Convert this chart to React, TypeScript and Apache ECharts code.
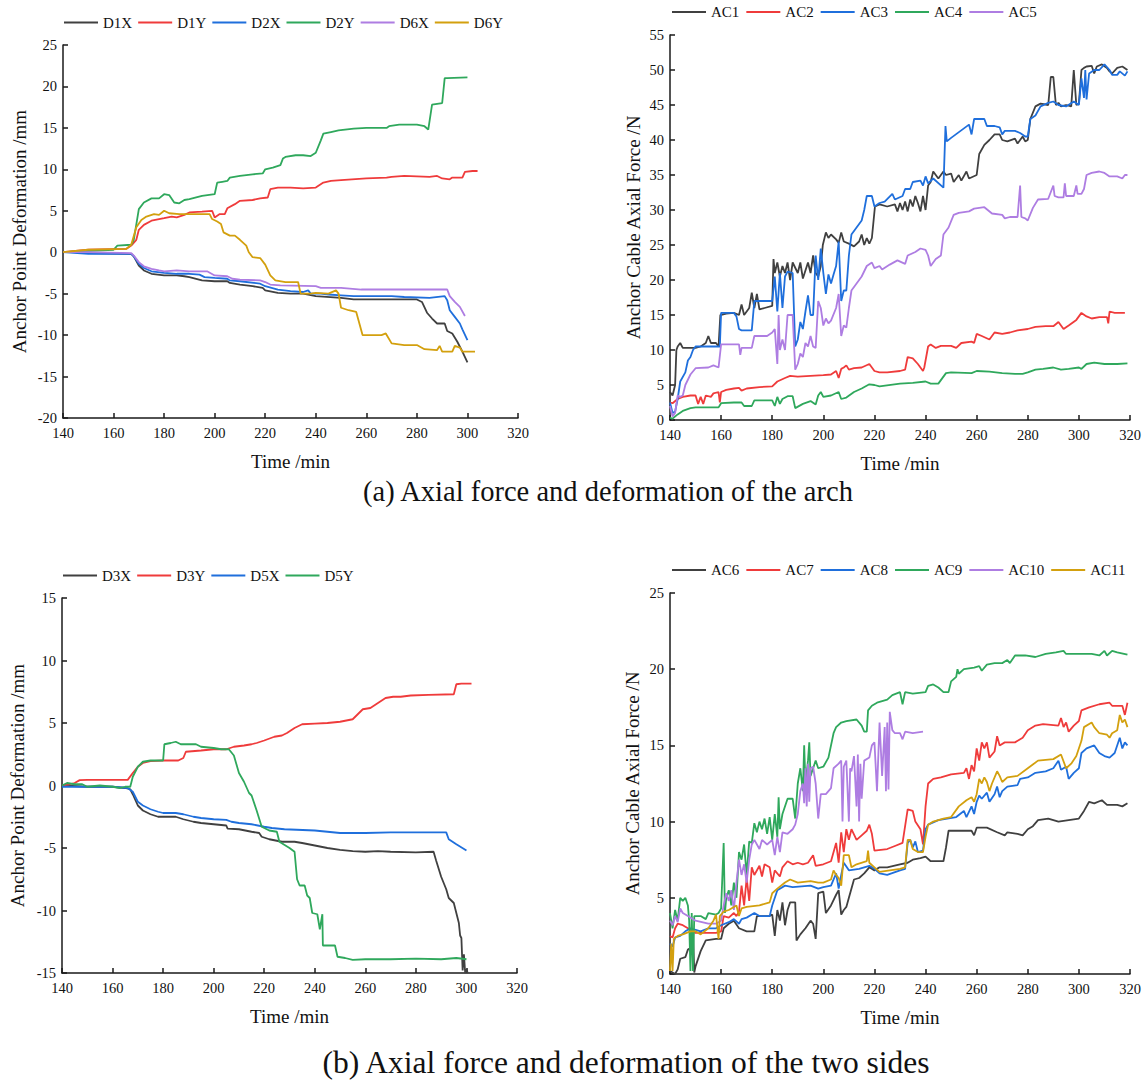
import React, { useEffect, useRef } from "react";
import * as echarts from "echarts";

type P = [number, number][];

// ---------- (a) left: anchor point deformation ----------
const D1X: P = [[140,0],[145,0],[150,-0.1],[167,-0.2],[168,-0.5],[170,-1.6],[172,-2.2],[175,-2.6],[180,-2.8],[185,-2.8],[188,-2.9],[190,-3.0],[195,-3.4],[200,-3.5],[205,-3.5],[206,-3.7],[210,-3.9],[215,-4.1],[219,-4.3],[220,-4.6],[225,-4.9],[230,-5.0],[235,-5.0],[240,-5.3],[250,-5.5],[255,-5.7],[260,-5.7],[270,-5.7],[280,-5.7],[282,-6.0],[284,-7.3],[286,-8.0],[288,-8.6],[291,-8.6],[292,-9.5],[294,-9.8],[296,-10.8],[298,-12.0],[300,-13.3]];
const D1Y: P = [[140,0],[150,0.3],[165,0.4],[167,0.8],[169,1.5],[170,2.7],[172,3.3],[175,3.8],[180,4.1],[183,4.3],[185,4.2],[188,4.5],[190,4.8],[195,4.9],[199,5.0],[200,4.2],[202,4.6],[204,4.6],[205,5.3],[208,5.8],[210,6.2],[215,6.3],[218,6.5],[221,6.6],[222,7.6],[225,7.8],[230,7.8],[235,7.7],[240,7.8],[243,8.4],[246,8.6],[250,8.7],[260,8.9],[268,9.0],[270,9.1],[275,9.2],[285,9.1],[288,9.2],[290,8.9],[293,8.8],[294,9.0],[298,9.0],[299,9.7],[302,9.8],[304,9.8]];
const D2X: P = [[140,0],[150,-0.2],[167,-0.2],[168,-0.5],[170,-1.4],[172,-1.9],[175,-2.3],[180,-2.5],[185,-2.6],[190,-2.6],[194,-2.7],[196,-3.0],[200,-3.1],[205,-3.2],[206,-3.4],[210,-3.5],[218,-3.8],[220,-4.1],[225,-4.5],[230,-4.7],[235,-4.8],[237,-4.6],[238,-5.0],[242,-5.0],[245,-5.1],[250,-5.2],[255,-5.3],[270,-5.3],[275,-5.4],[285,-5.5],[291,-5.3],[292,-5.8],[293,-7.0],[295,-7.8],[297,-8.6],[298,-9.3],[300,-10.6]];
const D2Y: P = [[140,0],[160,0.3],[161.5,0.8],[167,0.9],[168,1.5],[170,5.2],[172,6.0],[175,6.5],[178,6.5],[180,7.0],[182,6.9],[184,6.0],[186,5.9],[188,6.3],[190,6.4],[195,6.8],[200,7.0],[201,8.4],[203,8.5],[205,8.6],[206,9.0],[210,9.2],[215,9.4],[219,9.5],[220,10.0],[223,10.2],[226,10.5],[227,11.3],[228,11.5],[232,11.7],[235,11.7],[238,11.6],[240,12.0],[242,13.5],[243,14.3],[246,14.5],[249,14.7],[255,14.9],[260,15.0],[268,15.0],[269,15.2],[273,15.4],[280,15.4],[283,15.2],[284.5,14.8],[286,17.8],[290,18.0],[291,21.0],[292,21.0],[300,21.1]];
const D6X: P = [[140,0],[150,0],[167,-0.1],[168,-0.4],[170,-1.2],[172,-1.7],[175,-2.0],[178,-2.2],[180,-2.3],[185,-2.2],[190,-2.3],[197,-2.3],[200,-2.8],[205,-2.9],[207,-3.2],[210,-3.3],[218,-3.4],[220,-3.6],[222,-3.9],[226,-4.0],[240,-4.1],[242,-4.3],[250,-4.3],[258,-4.5],[270,-4.5],[292,-4.5],[293,-5.3],[295,-6.0],[297,-6.6],[299,-7.7]];
const D6Y: P = [[140,0],[150,0.3],[165,0.4],[167,0.9],[169,3.0],[171,3.9],[173,4.3],[176,4.6],[178,4.5],[180,5.0],[182,4.7],[186,4.6],[190,4.6],[198,4.6],[199,4.0],[201,3.7],[202.5,3.4],[203.5,2.4],[206,2.0],[208,2.0],[210,1.5],[212.5,0.8],[213.5,0],[215,-0.6],[218,-0.7],[220,-1.5],[222,-2.8],[224,-3.4],[228,-3.6],[233,-3.6],[234,-5.0],[238,-5.0],[240,-4.9],[245,-5.0],[248,-4.6],[249,-5.0],[250,-6.7],[253,-7.0],[256,-7.2],[258.5,-10.0],[262,-10.0],[266,-10.0],[267.7,-9.8],[270,-11.0],[275,-11.2],[280,-11.2],[283,-11.7],[288,-11.8],[289,-11.3],[290,-12.0],[294,-12.0],[295,-11.3],[297,-11.5],[298,-12.0],[303,-12.0]];

// ---------- (a) right: anchor cable axial force ----------
const AC1: P = [[140,4],[141,3.5],[142,5],[142.5,10],[143,10.5],[144,11],[145,10.3],[150,10.3],[152,10.5],[154,11],[155,12],[156,11],[158,11],[159,10.5],[159.7,15],[162,15.2],[165,15.3],[167,15],[168,16.5],[169,15],[171,16],[172,18.2],[173,16],[174,18],[175,15.8],[177,16],[180,16.3],[180.5,23],[181,21],[182,22.5],[183,20.5],[184,22],[185,21],[186,22.5],[187,20],[188,22.5],[190,21],[191,22.5],[192,20.2],[194,22.5],[195,21],[196,23.5],[197,21],[198,20.5],[199,22],[199.8,25],[201,26.8],[202,26],[203,26.5],[205,25.8],[206,25.3],[207,26.8],[208,25.5],[210,25.2],[212,24.8],[214,25.5],[215,26.5],[216,25],[217,26],[218,25.2],[219,26],[220.2,30.5],[222,30.8],[225,30.5],[228,30.8],[229,29.8],[230,31],[231,30],[232,31.2],[233,29.8],[234,31.5],[235,30.5],[236,32],[237,31],[238,29.8],[239,32],[240,30],[241,33.5],[242,34],[243,35.5],[245,34.5],[247,35.5],[248,35],[250,35.2],[251,34],[253,35],[254,34.2],[256,35.5],[257,34.5],[260,35],[261,38],[263,39.3],[265,40],[267,40.8],[269,40.8],[270,40],[272,39.8],[275,40.2],[276,39.5],[278,40.5],[279,39.8],[280,40],[281,43],[283,44.8],[285,45.2],[288,45],[289,49],[290,49],[291,45],[292,45.3],[293,44.8],[295,45],[297,44.8],[298,50],[299,45],[300,45.2],[301,50],[302,50.3],[303,50.5],[305,50.6],[306,49.5],[307,50.5],[309,50.8],[311,50.3],[312,49.8],[313,49.5],[315,50.3],[317,50.5],[319,50]];
const AC2: P = [[140,2.5],[141,2.4],[143,3],[145,3.3],[148,3.5],[150,3.5],[151,2.3],[152,3.3],[153,2.3],[154,3.5],[156,3.3],[157,3.8],[159,4],[159.5,2.5],[160,4],[162,4.3],[165,4.5],[167,4.6],[168,4.2],[170,4.5],[175,4.7],[180,4.8],[182,5.5],[185,6],[187,6.3],[190,6.2],[195,6.3],[200,6.4],[203,6.5],[205,7],[206,6],[207,7.3],[208,7.5],[209,7.8],[210,7.2],[212,7.4],[215,7.5],[218,8],[220,7],[222,6.8],[225,6.8],[230,7],[232,7.2],[233,9],[235,8.8],[237,8],[239,7],[239.5,7.5],[241,10.5],[242,10.8],[244,10.3],[246,10.6],[250,10.6],[252,10.3],[254,11],[258,11.2],[259,11],[260,12.3],[262,12],[265,11.5],[267,12.5],[270,12.3],[273,12.5],[276,12.8],[280,13],[283,13.3],[287,13.4],[290,13.4],[292,14],[294,13],[296,13.5],[299,14.3],[301,15.3],[303,14.8],[305,14.5],[308,14.7],[311,14.7],[311.5,13.8],[312,15.5],[314,15.3],[318,15.3]];
const AC3: P = [[140,2.5],[141,1],[142,1.2],[143,3],[144,5.5],[146,6.8],[147,8.5],[148,9],[149,10],[150,10.5],[155,10.5],[159.5,10.5],[160,15.3],[165,15.3],[166,14.8],[167,13],[168,12.8],[172,12.8],[173,17],[178,17],[180,17],[181,20.5],[182,15.5],[183,21],[184,16],[185,20.5],[186,21.2],[188,21],[189,10.5],[190,11.5],[191,14],[192,13],[193,15.5],[194,17.8],[195,15],[196,15],[197,23.5],[198,20],[199,24.5],[200,21],[201,18],[202,20.8],[203,19.5],[204,20.8],[205,22],[206,25.5],[207,17],[208,18.5],[209,18.5],[210,23.5],[211,26.5],[213,27.5],[215,28.5],[216,30],[217,32],[219,32],[220,30.5],[222,31],[224,31.2],[227,32.3],[228,31.5],[231,32],[232,33],[234,33],[235,34],[238,34.2],[239,33.5],[240,34.8],[241,33.8],[243,34.5],[247,33.2],[247.8,42],[248.3,39.8],[250,40.3],[257,42.2],[258,40.8],[259,43],[263,43],[264,42],[267,42],[269,41.8],[270,40.8],[271,41.3],[275,41.3],[277,41],[279,40.5],[280,40.5],[281,43],[283,43.5],[285,44.8],[288,45.3],[290,45.5],[292,45],[295,44.8],[298,45.5],[300,45],[301,48.8],[302,46],[302.5,50],[303,45.8],[304,49.5],[306,50],[308,50],[310,50.8],[312,50],[313,49.3],[315,49.3],[316,49.8],[318,49.2],[319,49.8]];
const AC4: P = [[140,0.3],[141,0.2],[143,0.8],[145,1.3],[148,1.7],[150,1.8],[155,1.8],[159,1.8],[160,2.4],[165,2.5],[168,2.5],[169,2.0],[172,2.0],[173,2.8],[180,2.8],[181,2],[182,3.3],[183,2.3],[184,3.0],[186,3.4],[188,3.4],[189,1.7],[192,2.3],[195,2.7],[197,2.2],[198,3.5],[199,4],[200,3.3],[203,3.5],[206,4],[207,3],[209,3.2],[212,4],[215,4.5],[218,5.1],[220,5],[222,4.8],[230,5.2],[235,5.3],[240,5.5],[242,5.2],[245,5.2],[248,6.7],[250,6.8],[258,6.7],[260,7],[265,6.9],[270,6.7],[275,6.6],[278,6.6],[280,6.8],[283,7.2],[286,7.3],[290,7.5],[293,7.2],[296,7.3],[300,7.5],[301,7.3],[303,8],[306,8.2],[310,8],[315,8.0],[319,8.1]];
const AC5: P = [[140,2],[141,0.5],[142,1],[143,3.5],[144,3.3],[145,3.5],[146,5],[148,6.5],[150,7.4],[155,7.5],[157,7.8],[159,7.5],[160,10.8],[165,10.8],[167,10.8],[167.5,9.3],[168,10.3],[172,10.3],[173,12],[178,12],[180,12.5],[181,13],[182,8],[182.5,15],[183,10],[184,11.5],[185,10],[186,15],[188,15],[189,7.2],[190,8],[191,9.5],[192,9],[193,11],[194,10.5],[195,12],[196,10.5],[197,10.3],[198,17],[199,16],[200,13.5],[201,14.5],[202,13.8],[203,14.2],[205,16],[206,18],[207,12],[208,13.5],[209,13.2],[210,16],[211,18.5],[213,19.5],[215,20.5],[217,22],[219,22.5],[220,21.7],[222,22],[223,21.5],[226,22.2],[229,22.8],[232,22.3],[233,23.5],[236,24],[238,24.5],[240,24.3],[241,23.5],[242,22],[244,23],[246,23.5],[247,26.5],[249,27.5],[251,29.3],[253,29.6],[257,29.8],[259,30.2],[263,30.4],[266,29.5],[270,29.3],[271,28.8],[273,29],[276,29],[277,33.5],[277.5,29],[279,28.8],[280,28.5],[282,30.3],[284,31.5],[288,31.6],[290,33.5],[290.5,32],[292,31.8],[294,31.8],[294.5,33.8],[295,32],[298,32],[299,33.5],[299.5,32.3],[301,32.3],[302,33],[303,35],[305,35.3],[308,35.5],[310,35.3],[312,34.8],[315,34.8],[317,34.5],[318,35],[319,35]];

// ---------- (b) left: anchor point deformation ----------
const D3X: P = [[140,0],[150,-0.1],[160,-0.1],[165,-0.2],[167,-0.3],[168,-0.7],[170,-1.6],[172,-2.0],[175,-2.3],[178,-2.5],[185,-2.5],[188,-2.7],[192,-2.9],[195,-3.0],[200,-3.1],[205,-3.2],[205.5,-3.45],[210,-3.5],[215,-3.7],[218,-3.8],[219,-4.1],[222,-4.3],[227,-4.5],[232,-4.5],[235,-4.6],[240,-4.8],[245,-5.0],[250,-5.15],[255,-5.25],[260,-5.3],[265,-5.25],[270,-5.3],[280,-5.35],[287,-5.3],[288,-6.0],[290,-7.3],[292,-8.3],[293,-9.0],[295,-9.4],[296,-10.2],[297,-11.0],[297.5,-12.0],[298,-12.2],[298.5,-14.8],[299,-13.5],[299.5,-15.0],[300,-14.7],[300.5,-15.0]];
const D3Y: P = [[140,0],[143,0.1],[145,0.2],[147,0.43],[150,0.45],[166,0.45],[168,1.0],[170,1.5],[172,1.8],[175,1.95],[180,2.0],[186,2.0],[188,2.2],[189,2.7],[195,2.8],[200,2.9],[205,2.9],[208,3.1],[212,3.2],[215,3.3],[217,3.4],[220,3.6],[224,3.9],[227,4.0],[229,4.2],[232,4.6],[235,4.9],[240,4.95],[245,5.0],[250,5.1],[255,5.3],[257,5.7],[259,6.1],[262,6.2],[265,6.6],[268,7.0],[271,7.1],[274,7.1],[278,7.2],[285,7.25],[295,7.3],[296,8.1],[298,8.15],[302,8.15]];
const D5X: P = [[140,-0.1],[150,-0.1],[160,-0.1],[166,-0.2],[168,-0.5],[170,-1.3],[172,-1.6],[175,-1.9],[178,-2.1],[180,-2.2],[185,-2.2],[188,-2.3],[192,-2.5],[195,-2.6],[200,-2.7],[205,-2.75],[207,-2.9],[210,-3.0],[215,-3.1],[220,-3.3],[223,-3.4],[228,-3.5],[240,-3.6],[245,-3.7],[250,-3.8],[260,-3.8],[270,-3.75],[292,-3.75],[293,-4.3],[296,-4.7],[300,-5.2]];
const D5Y: P = [[140,0],[142,0.2],[145,0.1],[148,0.1],[150,-0.1],[155,0],[160,-0.1],[163,-0.2],[165,-0.1],[167,-0.1],[168,0.7],[170,1.5],[172,1.9],[175,2.0],[180,2.0],[180.5,3.3],[183,3.4],[185,3.5],[187,3.3],[190,3.3],[193,3.3],[195,3.1],[200,3.0],[203,2.9],[206,2.9],[208,2.4],[210,1.0],[212,0.3],[214,-0.6],[215,-0.8],[217,-2.0],[219,-3.3],[222,-3.6],[225,-3.7],[226,-4.5],[230,-5.0],[232,-5.3],[233,-7.5],[234,-8.0],[236,-8.0],[237,-8.8],[238,-9.0],[239,-10.2],[241,-10.3],[242,-11.5],[243,-10.3],[243.2,-12.8],[248,-12.8],[249,-13.7],[252,-13.8],[255,-13.95],[260,-13.9],[270,-13.9],[280,-13.85],[290,-13.9],[296,-13.8],[300,-13.9]];

// ---------- (b) right: anchor cable axial force ----------
const AC6: P = [[140,0.2],[142,0],[143,0.3],[144,1],[146,1.1],[147,1.6],[148,1.7],[149,2.8],[149.5,0.1],[150,0.5],[152,1.5],[154,2.2],[158,2.3],[160,2.3],[161,3.0],[163,3.3],[165,3.5],[167,3.0],[170,2.8],[173,2.8],[174,3.8],[179,3.8],[180,3.9],[181,2.5],[182,4.2],[183,3.5],[184,4.7],[185,3.2],[186,4.2],[187,4.7],[189,4.7],[189.5,2.2],[191,2.6],[193,3.0],[195,3.5],[196,3.3],[197,2.3],[198,5.3],[200,5.4],[201,4.0],[203,4.5],[205,5.2],[206,5.5],[207,3.9],[208,4.2],[209,4.4],[210,5.0],[212,6.2],[214,6.3],[216,6.6],[218,7.0],[220,6.8],[222,7.0],[225,7.0],[230,7.2],[233,7.3],[235,7.5],[238,7.6],[240,7.7],[242,7.4],[247,7.4],[248,8.3],[249,9.4],[252,9.4],[258,9.4],[259,9.1],[260,9.6],[264,9.6],[268,9.3],[271,9.1],[272,9.3],[276,9.2],[278,9.1],[280,9.5],[282,9.7],[284,10.1],[288,10.2],[292,10.0],[296,10.1],[300,10.2],[302,10.7],[304,11.3],[306,11.2],[309,11.4],[311,11.1],[315,11.1],[317,11],[319,11.2]];
const AC7: P = [[140,2.5],[141,2.4],[142,3],[143,3.3],[145,3.2],[147,3],[150,2.7],[158,2.7],[160,2.8],[161,3.8],[163,3.7],[165,4],[166,3.8],[167,4.1],[168,5.8],[169,4.5],[170,6.3],[171,4.8],[172,7],[173,6.5],[175,7.1],[176,6.4],[177,7.2],[179,7],[180,6],[181,6.8],[183,6.4],[184,7],[186,7.4],[188,7.2],[190,7.3],[192,7.2],[194,7.3],[196,7.8],[197,7.1],[200,7.2],[203,7.4],[205,8.6],[206,7.3],[207,9.3],[208,8],[209,9.5],[210,8.8],[211,9.5],[213,8.8],[215,9.1],[217,9.4],[218,9.8],[219,9.2],[220,8.1],[225,8.2],[228,8.4],[231,8.6],[233,10.8],[235,10.7],[236,10],[238,9.5],[239,8.5],[240,11],[241,12.5],[243,12.8],[246,12.9],[250,13.1],[255,13.2],[256,13.5],[257,12.8],[258,13.7],[259,13.3],[260,14.8],[261,14],[262,15.2],[263,14.8],[264,15.2],[265,14.2],[267,14.6],[268,15.6],[269,15],[271,15.2],[275,15.2],[278,15.5],[280,16],[283,16.3],[286,16.4],[292,16.3],[293,16.8],[294,16.2],[295,16.5],[296,15.9],[298,16.3],[300,16.6],[301,17.3],[304,17.5],[308,17.7],[312,17.8],[313,17.6],[317,17.6],[318,17],[319,17.8]];
const AC8: P = [[140,2],[141,1.8],[142,2.4],[144,2.5],[146,2.8],[148,3],[150,2.9],[152,2.8],[155,3.0],[158,3.0],[160,3.2],[163,3.4],[165,3.6],[167,3.3],[168,3.6],[170,3.7],[173,4],[175,3.8],[179,3.8],[180,4.5],[182,5.5],[185,5.8],[188,5.7],[195,5.8],[198,5.6],[200,5.7],[203,5.8],[205,6.6],[206,5.6],[207,6.5],[208,7.3],[210,6.8],[214,6.9],[218,7.1],[220,6.9],[222,6.6],[225,6.5],[230,6.8],[232,6.9],[233,8.6],[234,8.8],[235,8.3],[236,8.7],[237,8],[239,8.1],[240,9.5],[241,9.8],[245,10.1],[252,10.3],[255,10.7],[256,10.3],[258,11],[259,10.5],[260,11.3],[261,11.7],[262,11.5],[264,11.9],[265,11.3],[267,11.8],[268,12.3],[269,11.6],[270,12],[272,12.3],[276,12.4],[277,12.8],[280,12.9],[283,13.2],[287,13.3],[290,13.5],[292,14],[293,13.4],[295,13.6],[296,12.8],[298,13.2],[300,13.5],[301,14.5],[303,14.8],[306,15],[308,14.5],[310,14.3],[312,14.2],[314,14.5],[316,15.5],[317,14.8],[318,15.2],[319,15]];
const AC9: P = [[140,4],[141,3],[142,4.2],[143,3.5],[144,5],[145,4.8],[146,5],[147,4.5],[147.5,3.5],[148,0.2],[148.5,4],[149,0.2],[149.5,3.8],[152,3.8],[154,3.6],[155,4],[158,3.9],[159,4.0],[160,4.3],[161,8.6],[161.5,4],[162,5],[163,5.5],[164,4.5],[165,6],[166,5],[167,8],[168,7.5],[169,8.5],[170,6.5],[171,8.7],[172,8.6],[173,9.9],[174,9.3],[175,10],[176,9.5],[177,10.2],[178,9.2],[179,10.3],[180,8.8],[181,10.5],[182,9],[182.5,11.6],[183,9.5],[184,10.5],[186,11.5],[188,11.5],[189,10.2],[190,12.5],[191,13.5],[192,12],[192.5,15],[193,12.5],[194,14],[194.5,15.2],[195,13],[196,13.5],[197,14],[198,13.5],[200,13.6],[202,14.2],[204,15.8],[205,16.2],[207,16.5],[209,16.6],[213,16.7],[215,16.3],[216,15.9],[217,15.9],[217.5,17.3],[219,17.6],[221,17.8],[225,18],[227,18.3],[230,18.5],[231,17.7],[232,18.5],[235,18.4],[240,18.5],[241,18.9],[243,19],[245,18.8],[247,18.5],[249,18.5],[250,19.2],[252,19.5],[252.5,20],[253,19.7],[255,20],[259,20.1],[261,20.2],[262,19.9],[264,20.3],[267,20.4],[270,20.4],[272,20.6],[273,20.4],[275,20.9],[279,20.9],[283,20.8],[287,21],[291,21.1],[294,21.2],[295,21],[305,21],[308,20.9],[310,21.2],[311,20.9],[313,21.2],[315,21.1],[319,20.95]];
const AC10: P = [[140,3.5],[141,3.2],[142,3.8],[143,3.4],[144,4.3],[145,4],[147,3.8],[150,3.5],[155,3.3],[158,3.3],[160,3.5],[161,4.5],[162,5.3],[163,4.8],[164,5.5],[165,4.2],[166,6],[167,7.5],[168,6.5],[169,7.2],[170,6],[171,7.5],[172,8.5],[173,8.8],[175,8.2],[176,8.8],[178,8.5],[180,8.8],[181,7.8],[182,9],[183,8],[184,9.3],[186,9.2],[188,9.5],[189,9.8],[190,10.5],[191,12],[192,12.5],[192.5,11.2],[193,13.5],[193.5,11],[194,13.8],[194.5,11.3],[195,13.5],[196,13.6],[197,12.5],[198,10.2],[199,11.8],[201,11.8],[203,12.2],[204,13.5],[206,13.8],[207,14],[207.5,10],[208,13.6],[209,14],[210,10],[210.5,13.5],[211,13.3],[212,14.3],[213,11],[213.5,14.4],[214,10],[214.5,13.8],[215,11.5],[216,14],[218,14.2],[219,15],[220,15.2],[221,12],[222,16.5],[223,13],[224,16.2],[224.5,12],[225,16.5],[225.5,12.1],[226,17.2],[227,16],[228,15.8],[230,15.8],[231,15.4],[232,15.9],[235,15.8],[239,15.9]];
const AC11: P = [[140,0.2],[140.5,2],[141,0.2],[141.5,2.3],[143,2.5],[145,2.6],[148,2.8],[150,2.8],[152,2.6],[155,3.0],[157,3.5],[158,3.9],[159,2.3],[159.5,3.8],[161,4.1],[163,4.2],[166,4.5],[167,3.8],[168,4.3],[170,4.4],[175,4.5],[179,4.7],[180,5.3],[182,5.6],[185,6.0],[187,6.2],[190,6.0],[195,6.1],[198,6.0],[200,6.0],[203,6.2],[204,6.8],[205,6.5],[206,6.3],[207,5.8],[208,7.8],[210,7.8],[211,7],[213,7.2],[217,7.4],[217.5,8.1],[218,7.3],[220,7.0],[222,6.7],[226,6.8],[230,6.9],[232,7.0],[233,8.8],[234,8.8],[235,8.2],[237,8],[239,8],[240,9.0],[241,9.8],[243,10],[247,10.2],[250,10.3],[253,11],[256,11.4],[258,11.6],[259,11.3],[260,11.8],[261,12.8],[262,12.5],[263,12.9],[264,12.6],[265,12],[266,12.5],[268,13.3],[269,13],[270,12.6],[272,12.9],[276,13],[280,13.5],[284,14],[290,14.1],[293,14.4],[295,13.5],[297,13.8],[299,14.3],[301,15.3],[302,16.2],[305,16.5],[306,16.2],[308,15.8],[311,15.7],[312,15.5],[313,15.8],[315,16],[316,17],[317,16.5],[318,16.7],[319,16.2]];

const X_TICKS = { min: 140, max: 320, interval: 20 };
const CAPTION_A = "(a) Axial force and deformation of the arch";
const CAPTION_B = "(b) Axial force and deformation of the two sides";

const C = {
  gray: "#404040",
  red: "#ef3b3b",
  blue: "#1f6fdc",
  green: "#2fa85c",
  purple: "#ae7de2",
  gold: "#d3a00e",
};

const FONT = "Liberation Serif";

export default function App() {
  const ref = useRef<HTMLDivElement>(null);
  useEffect(() => {
    document.body.style.margin = "0";
    if (!ref.current) return;
    const chart = echarts.init(ref.current, undefined, { renderer: "svg" });

    const grids = [
      { left: 63, top: 45, width: 455, height: 373 },
      { left: 670, top: 35, width: 460, height: 385 },
      { left: 62, top: 598, width: 455, height: 375 },
      { left: 670, top: 593, width: 460, height: 381 },
    ];
    const yCfg = [
      { min: -20, max: 25, interval: 5, name: "Anchor Point Deformation /mm", gap: 34 },
      { min: 0, max: 55, interval: 5, name: "Anchor Cable Axial Force /N", gap: 27 },
      { min: -15, max: 15, interval: 5, name: "Anchor Point Deformation /mm", gap: 35 },
      { min: 0, max: 25, interval: 5, name: "Anchor Cable Axial Force /N", gap: 28 },
    ];
    const axisLine = { show: true, onZero: false, lineStyle: { color: "#1a1a1a", width: 1.5 } };
    const axisTick = { show: true, inside: true, length: 5, lineStyle: { color: "#1a1a1a", width: 1.5 } };
    const axisLabel = { color: "#111", fontFamily: FONT, fontSize: 14.5 };

    const xAxis = grids.map((_, i) => ({
      type: "value",
      gridIndex: i,
      ...X_TICKS,
      name: "Time /min",
      nameLocation: "middle",
      nameGap: 34,
      nameTextStyle: { color: "#111", fontFamily: FONT, fontSize: 19 },
      axisLine,
      axisTick,
      axisLabel: { ...axisLabel, margin: 7 },
      splitLine: { show: false },
    }));
    const yAxis = yCfg.map((c, i) => ({
      type: "value",
      gridIndex: i,
      min: c.min,
      max: c.max,
      interval: c.interval,
      name: c.name,
      nameLocation: "middle",
      nameGap: c.gap,
      nameTextStyle: { color: "#111", fontFamily: FONT, fontSize: 19 },
      axisLine,
      axisTick,
      axisLabel: { ...axisLabel, margin: 6 },
      splitLine: { show: false },
    }));

    const groups: { name: string; data: P; color: string }[][] = [
      [
        { name: "D1X", data: D1X, color: C.gray },
        { name: "D1Y", data: D1Y, color: C.red },
        { name: "D2X", data: D2X, color: C.blue },
        { name: "D2Y", data: D2Y, color: C.green },
        { name: "D6X", data: D6X, color: C.purple },
        { name: "D6Y", data: D6Y, color: C.gold },
      ],
      [
        { name: "AC1", data: AC1, color: C.gray },
        { name: "AC2", data: AC2, color: C.red },
        { name: "AC3", data: AC3, color: C.blue },
        { name: "AC4", data: AC4, color: C.green },
        { name: "AC5", data: AC5, color: C.purple },
      ],
      [
        { name: "D3X", data: D3X, color: C.gray },
        { name: "D3Y", data: D3Y, color: C.red },
        { name: "D5X", data: D5X, color: C.blue },
        { name: "D5Y", data: D5Y, color: C.green },
      ],
      [
        { name: "AC6", data: AC6, color: C.gray },
        { name: "AC7", data: AC7, color: C.red },
        { name: "AC8", data: AC8, color: C.blue },
        { name: "AC9", data: AC9, color: C.green },
        { name: "AC10", data: AC10, color: C.purple },
        { name: "AC11", data: AC11, color: C.gold },
      ],
    ];

    const series: any[] = [];
    groups.forEach((g, gi) => {
      g.forEach((s) => {
        series.push({
          type: "line",
          name: s.name,
          xAxisIndex: gi,
          yAxisIndex: gi,
          data: s.data,
          symbol: "none",
          color: s.color,
          lineStyle: { color: s.color, width: 1.8 },
          clip: true,
        });
      });
    });

    const legendPos = [
      { left: 64, top: 15 },
      { left: 672, top: 4.5 },
      { left: 63, top: 568 },
      { left: 672, top: 562.5 },
    ];
    const legendGap = [6, 7, 6, 7];
    const legend = groups.map((g, i) => ({
      ...legendPos[i],
      padding: 0,
      width: 520,
      data: g.map((s) => ({ name: s.name, icon: "rect" })),
      itemWidth: 34,
      itemHeight: 2,
      itemGap: legendGap[i],
      textStyle: { color: "#111", fontFamily: FONT, fontSize: 15 },
      selectedMode: false,
    }));

    chart.setOption({
      animation: false,
      backgroundColor: "#fff",
      grid: grids,
      xAxis,
      yAxis,
      legend,
      series,
      graphic: [
        {
          type: "text",
          x: 608,
          y: 491,
          style: { text: CAPTION_A, fontFamily: FONT, fontSize: 28.5, fill: "#111", textAlign: "center", textVerticalAlign: "middle" },
        },
        {
          type: "text",
          x: 626,
          y: 1062,
          style: { text: CAPTION_B, fontFamily: FONT, fontSize: 31.5, fill: "#111", textAlign: "center", textVerticalAlign: "middle" },
        },
      ],
    });
    return () => chart.dispose();
  }, []);
  return <div ref={ref} style={{ width: 1145, height: 1085 }} />;
}
